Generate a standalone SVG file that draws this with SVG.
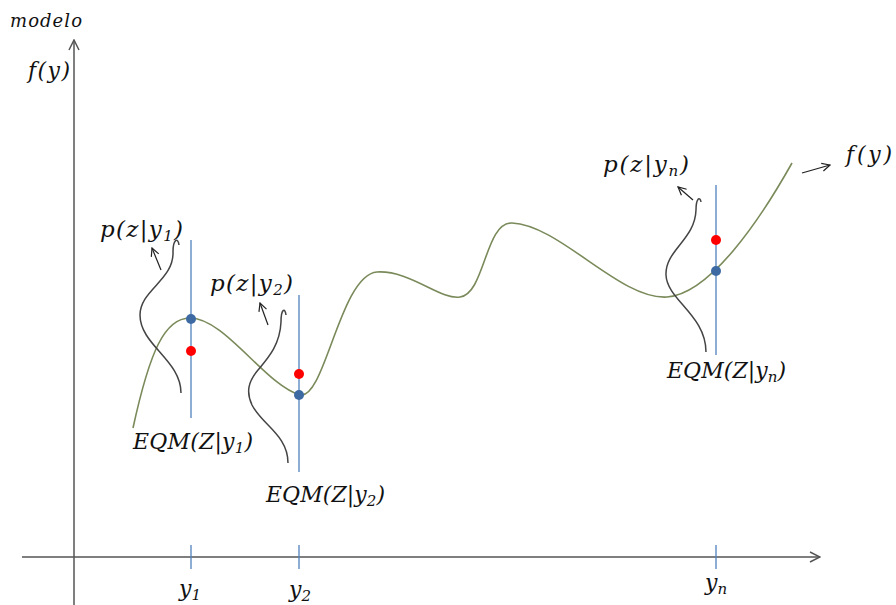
<svg xmlns="http://www.w3.org/2000/svg" width="896" height="605" viewBox="0 0 896 605">
<style>
.t{font-family:"DejaVu Serif","Liberation Serif",serif;font-style:italic;fill:#111;}
.axis{stroke:#555;stroke-width:1.5;fill:none;}
.vl{stroke:#4f81bd;stroke-width:1.3;fill:none;}
.fy{stroke:#7a8a5a;stroke-width:1.6;fill:none;}
.pd{stroke:#444;stroke-width:1.5;fill:none;}
.ar{stroke:#222;stroke-width:1.2;fill:none;}
.bd{fill:#3d6aa3;}
.rd{fill:#f00;}
</style>
<defs>
<marker id="open" viewBox="0 0 10 10" refX="9" refY="5" markerWidth="10" markerHeight="10" markerUnits="userSpaceOnUse" orient="auto">
<path d="M1,1 L9,5 L1,9" fill="none" stroke="#222" stroke-width="1.2"/>
</marker>
<marker id="axarr" viewBox="0 0 12 12" refX="11" refY="6" markerWidth="12" markerHeight="12" markerUnits="userSpaceOnUse" orient="auto">
<path d="M1,1 L11,6 L1,11" fill="none" stroke="#555" stroke-width="1.5"/>
</marker>
</defs>
<g id="axes">
<line class="axis" x1="74" y1="605" x2="74" y2="40" marker-end="url(#axarr)"/>
<line class="axis" x1="22" y1="557" x2="820" y2="557" marker-end="url(#axarr)"/>
<line class="vl" x1="191" y1="545" x2="191" y2="569"/>
<line class="vl" x1="299" y1="545" x2="299" y2="569"/>
<line class="vl" x1="716" y1="545" x2="716" y2="569"/>
<text class="t" x="10" y="27" font-size="18" textLength="72">modelo</text>
<text class="t" x="28" y="78" font-size="22" textLength="42">f(y)</text>
<text class="t" x="179" y="596" font-size="22">y<tspan font-size="15" dy="4">1</tspan></text>
<text class="t" x="289" y="597" font-size="22">y<tspan font-size="15" dy="4">2</tspan></text>
<text class="t" x="705" y="590" font-size="22">y<tspan font-size="15" dy="4">n</tspan></text>
</g>
<g id="fcurve">
<path class="fy" d="M133,428 C150,350 165,318 190,318 C225,318 265,385 300,395 C325,400 340,275 377,272 C410,270 440,300 460,297 C485,294 485,222 512,223 C560,225 620,300 667,297 C710,294 760,220 792,163"/>
<text class="t" x="846" y="162" font-size="22" textLength="46">f(y)</text>
</g>
<g id="node-y1">
<line class="vl" x1="191" y1="240" x2="191" y2="418"/>
<path class="pd" d="M179,245 C178,237 173,239 173,252 C174,280 140,290 140,315 C140,345 181,360 181,393"/>
<circle class="bd" cx="191" cy="319" r="5"/>
<circle class="rd" cx="191" cy="351" r="5"/>
<text class="t" x="100" y="237" font-size="23" textLength="83">p(z|y<tspan font-size="15" dy="4">1</tspan><tspan dy="-4">)</tspan></text>
<text class="t" x="133" y="449" font-size="22" textLength="120">EQM(Z|y<tspan font-size="15" dy="4">1</tspan><tspan dy="-4">)</tspan></text>
</g>
<g id="node-y2">
<line class="vl" x1="299" y1="295" x2="299" y2="472"/>
<path class="pd" d="M286,315 C285,307 281,309 281,322 C280,345 268,358 258,370 C248,382 246,392 252,405 C262,425 288,435 288,463"/>
<circle class="bd" cx="299" cy="395" r="5"/>
<circle class="rd" cx="299" cy="374" r="5"/>
<text class="t" x="210" y="291" font-size="23" textLength="83">p(z|y<tspan font-size="15" dy="4">2</tspan><tspan dy="-4">)</tspan></text>
<text class="t" x="266" y="502" font-size="22" textLength="119">EQM(Z|y<tspan font-size="15" dy="4">2</tspan><tspan dy="-4">)</tspan></text>
</g>
<g id="node-yn">
<line class="vl" x1="716" y1="185" x2="716" y2="355"/>
<path class="pd" d="M701,202 C700,196 696,198 696,210 C695,240 665,250 666,275 C667,300 706,315 706,352"/>
<circle class="bd" cx="716" cy="271" r="5"/>
<circle class="rd" cx="716" cy="240" r="5"/>
<text class="t" x="603" y="172" font-size="23" textLength="86">p(z|y<tspan font-size="15" dy="4">n</tspan><tspan dy="-4">)</tspan></text>
<text class="t" x="667" y="378" font-size="22" textLength="119">EQM(Z|y<tspan font-size="15" dy="4">n</tspan><tspan dy="-4">)</tspan></text>
</g>
<g id="connectors">
<line class="ar" x1="161" y1="270" x2="152" y2="248" marker-end="url(#open)"/>
<line class="ar" x1="268" y1="325" x2="260" y2="303" marker-end="url(#open)"/>
<line class="ar" x1="693" y1="200" x2="678" y2="187" marker-end="url(#open)"/>
<line class="ar" x1="802" y1="173" x2="830" y2="165" marker-end="url(#open)"/>
</g>
</svg>
